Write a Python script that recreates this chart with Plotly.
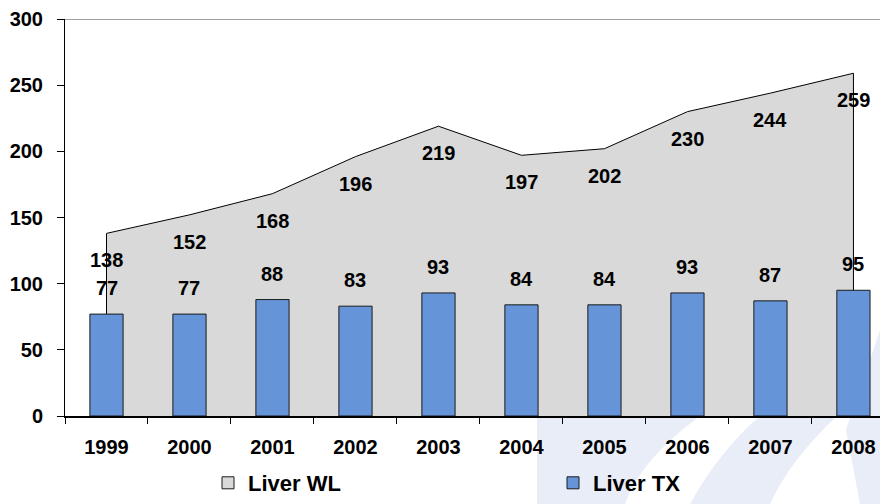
import plotly.graph_objects as go

years = ["1999", "2000", "2001", "2002", "2003", "2004", "2005", "2006", "2007", "2008"]
liver_wl = [138, 152, 168, 196, 219, 197, 202, 230, 244, 259]
liver_tx = [77, 77, 88, 83, 93, 84, 84, 93, 87, 95]
y_ticks = [0, 50, 100, 150, 200, 250, 300]

FONT = "Liberation Sans, Arial, sans-serif"
W, H = 880, 504
ML, MR, MT, MB = 65, 0, 19, 88
PW = W - ML - MR
PH = H - MT - MB
WL_COLOR = "#d9d9d9"
TX_COLOR = "#6694d8"


def px(x):
    return (x - ML) / PW


def py(y):
    return (H - MB - y) / PH


fig = go.Figure()

# Area (waiting list) as closed polygon along categories
fig.add_trace(go.Scatter(
    x=[years[0]] + years + [years[-1]],
    y=[0] + liver_wl + [0],
    mode="lines",
    fill="toself",
    fillcolor=WL_COLOR,
    line=dict(color="#000000", width=1),
    name="Liver WL",
    legendgroup="wl",
    showlegend=False,
    hoverinfo="skip",
))
# legend swatch for the area series
fig.add_trace(go.Bar(
    x=[None], y=[None], name="Liver WL", legendgroup="wl",
    marker=dict(color=WL_COLOR, line=dict(color="#1a1a1a", width=1)),
    showlegend=True,
))

fig.add_trace(go.Bar(
    x=years,
    y=liver_tx,
    width=0.4,
    xaxis="x2", yaxis="y2",
    marker=dict(color=TX_COLOR, line=dict(color="#1a1a1a", width=1)),
    name="Liver TX",
))

for i, v in enumerate(liver_wl):
    fig.add_annotation(x=i, y=v, text=str(v), showarrow=False, yshift=-27,
                       font=dict(family=FONT, size=20, color="#000000", weight="bold"))
for i, v in enumerate(liver_tx):
    fig.add_annotation(x=i, y=v, text=str(v), showarrow=False, yshift=26,
                       font=dict(family=FONT, size=20, color="#000000", weight="bold"))

wm = "#e8edf8"
shapes = [
    dict(type="path", xref="paper", yref="paper", layer="below",
         path=f"M{px(537)},{py(416)} L{px(700)},{py(416)} Q{px(640)},{py(460)} {px(625)},{py(504)} L{px(537)},{py(504)} Z",
         fillcolor=wm, line=dict(width=0)),
    dict(type="path", xref="paper", yref="paper", layer="below",
         path=f"M{px(760)},{py(416)} L{px(837)},{py(416)} Q{px(790)},{py(460)} {px(770)},{py(504)} L{px(690)},{py(504)} Q{px(720)},{py(450)} {px(760)},{py(416)} Z",
         fillcolor=wm, line=dict(width=0)),
    dict(type="path", xref="paper", yref="paper", layer="below",
         path=f"M{px(846)},{py(430)} L{px(880)},{py(330)} L{px(880)},{py(504)} L{px(860)},{py(504)} Z",
         fillcolor=wm, line=dict(width=0)),
    dict(type="line", xref="paper", yref="y", x0=0, x1=1, y0=300, y1=300,
         line=dict(color="#a0a0a0", width=2)),
]

fig.update_layout(
    width=W, height=H,
    margin=dict(l=ML, r=MR, t=MT, b=MB),
    paper_bgcolor="#ffffff",
    plot_bgcolor="rgba(0,0,0,0)",
    font=dict(family=FONT, color="#000000"),
    showlegend=True,
    legend=dict(
        orientation="h",
        xref="container", yref="container",
        x=208 / W, y=0,
        xanchor="left", yanchor="bottom",
        font=dict(family=FONT, size=22, color="#000000", weight="bold"),
        entrywidth=300, entrywidthmode="pixels",
        bgcolor="rgba(0,0,0,0)",
        traceorder="normal",
    ),
    shapes=shapes,
    xaxis=dict(
        type="category",
        range=[-0.5, 9.32],
        showgrid=False,
        showline=True, linecolor="#000000", linewidth=2,
        ticks="outside", ticklen=6, tickcolor="#000000", tickwidth=1,
        tickson="boundaries",
        ticklabelstandoff=12,
        tickfont=dict(family=FONT, size=20, color="#000000", weight="bold"),
        fixedrange=True,
    ),
    yaxis=dict(
        range=[0, 300],
        tickvals=y_ticks,
        showgrid=False,
        zeroline=False,
        showline=True, linecolor="#000000", linewidth=1,
        ticks="outside", ticklen=7, tickcolor="#000000",
        ticklabelstandoff=10,
        tickfont=dict(family=FONT, size=20, color="#000000", weight="bold"),
        fixedrange=True,
    ),
    xaxis2=dict(
        type="category", overlaying="x", matches="x",
        range=[-0.5, 9.32], visible=False, fixedrange=True,
    ),
    yaxis2=dict(
        overlaying="y", range=[0, 300], visible=False, fixedrange=True,
    ),
)

fig.write_html("out.html")
